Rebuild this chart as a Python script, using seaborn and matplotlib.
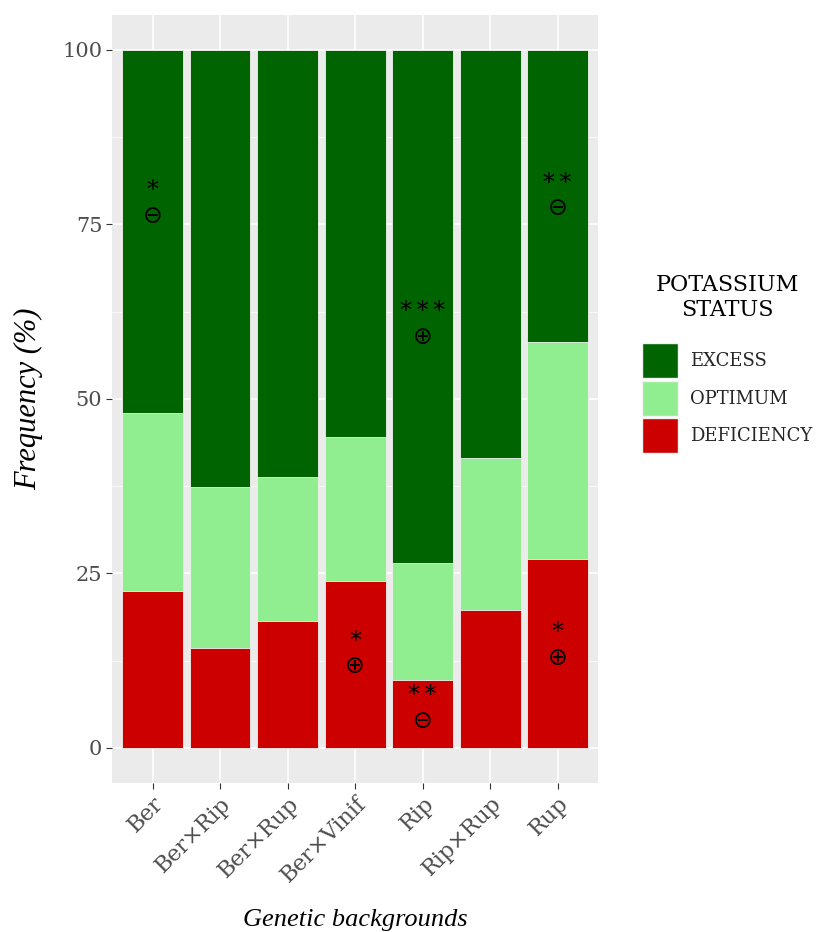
import matplotlib
matplotlib.use("Agg")
import matplotlib.pyplot as plt
from matplotlib.patches import Patch
from matplotlib.ticker import MultipleLocator
import seaborn as sns
import pandas as pd

# data (percent per genetic background)
backgrounds = ["Ber", "Ber×Rip", "Ber×Rup", "Ber×Vinif", "Rip", "Rip×Rup", "Rup"]
deficiency = [22.5, 14.3, 18.2, 23.9, 9.7, 19.8, 27.1]
optimum = [25.5, 23.1, 20.6, 20.7, 16.8, 21.7, 31.1]
excess = [52.0, 62.6, 61.2, 55.4, 73.5, 58.5, 41.8]

# significance marks: (background, stars, sign, y position in %)
marks = [
    ("Ber", "*", "⊖", 76.2),
    ("Rip", "***", "⊕", 58.9),
    ("Rup", "**", "⊖", 77.3),
    ("Ber×Vinif", "*", "⊕", 11.7),
    ("Rip", "**", "⊖", 3.9),
    ("Rup", "*", "⊕", 12.9),
]

status = ["EXCESS", "OPTIMUM", "DEFICIENCY"]
colors = {"EXCESS": "#006400", "OPTIMUM": "#90EE90", "DEFICIENCY": "#CD0000"}

df = pd.DataFrame({"bg": backgrounds, "DEFICIENCY": deficiency,
                   "OPTIMUM": optimum, "EXCESS": excess})
df["top_def"] = df["DEFICIENCY"]
df["top_opt"] = df["DEFICIENCY"] + df["OPTIMUM"]
df["top_exc"] = df["top_opt"] + df["EXCESS"]

sns.set_theme(style="darkgrid")
serif = ["DejaVu Serif"]

fig = plt.figure(figsize=(8.24, 9.32), dpi=100)
ax = fig.add_axes([0.136, 0.160, 0.590, 0.824])
ax.set_facecolor("#EBEBEB")

# stacked bars: draw cumulative tops from the highest down
for col, name in [("top_exc", "EXCESS"), ("top_opt", "OPTIMUM"), ("top_def", "DEFICIENCY")]:
    sns.barplot(data=df, x="bg", y=col, order=backgrounds, color=colors[name],
                width=0.9, saturation=1, edgecolor="#F2F2F2", linewidth=0.6, ax=ax)

for bg, stars, sign, y in marks:
    i = backgrounds.index(bg)
    ax.text(i, y, sign, ha="center", va="center", fontsize=17,
            family=["DejaVu Sans"], color="black")
    ax.text(i, y + 3.6, "\u2009".join(stars), ha="center", va="center", fontsize=17,
            family=serif, color="black")

ax.set_xlim(-0.6, 6.6)
ax.set_ylim(-5, 105)
ax.set_yticks([0, 25, 50, 75, 100])
ax.yaxis.set_minor_locator(MultipleLocator(12.5))
ax.grid(which="major", color="white", linewidth=1.1)
ax.grid(which="minor", color="white", linewidth=0.5)
ax.set_axisbelow(True)
for s in ax.spines.values():
    s.set_visible(False)

ax.tick_params(axis="both", which="major", length=4, width=0.8, color="#333333",
               labelcolor="#4D4D4D", labelsize=15, bottom=True, left=True, pad=3)
ax.tick_params(which="minor", length=0)
for lab in ax.get_yticklabels():
    lab.set_family(serif)
ax.set_xticks(range(len(backgrounds)))
ax.set_xticklabels(backgrounds, rotation=45, ha="right", rotation_mode="anchor",
                   family=serif, fontsize=16, color="#4D4D4D")

ax.set_xlabel("Genetic backgrounds", fontsize=19, style="italic",
              family=["Liberation Serif"], color="black", labelpad=16)
ax.set_ylabel("Frequency (%)", fontsize=22, style="italic",
              family=["Liberation Serif"], color="black", labelpad=14)

handles = [Patch(facecolor=colors[s], edgecolor="#F2F2F2", label=s) for s in status]
leg = fig.legend(handles=handles, title="POTASSIUM\nSTATUS", loc="center left",
                 bbox_to_anchor=(0.760, 0.61), frameon=False,
                 prop={"family": serif, "size": 13}, title_fontproperties={"family": serif, "size": 16},
                 handlelength=1.95, handleheight=2.6, handletextpad=0.7, labelspacing=0.15)
leg.get_title().set_multialignment("center")
leg.get_title().set_color("black")
leg._legend_box.sep = 16

fig.savefig("out.png", dpi=100)
